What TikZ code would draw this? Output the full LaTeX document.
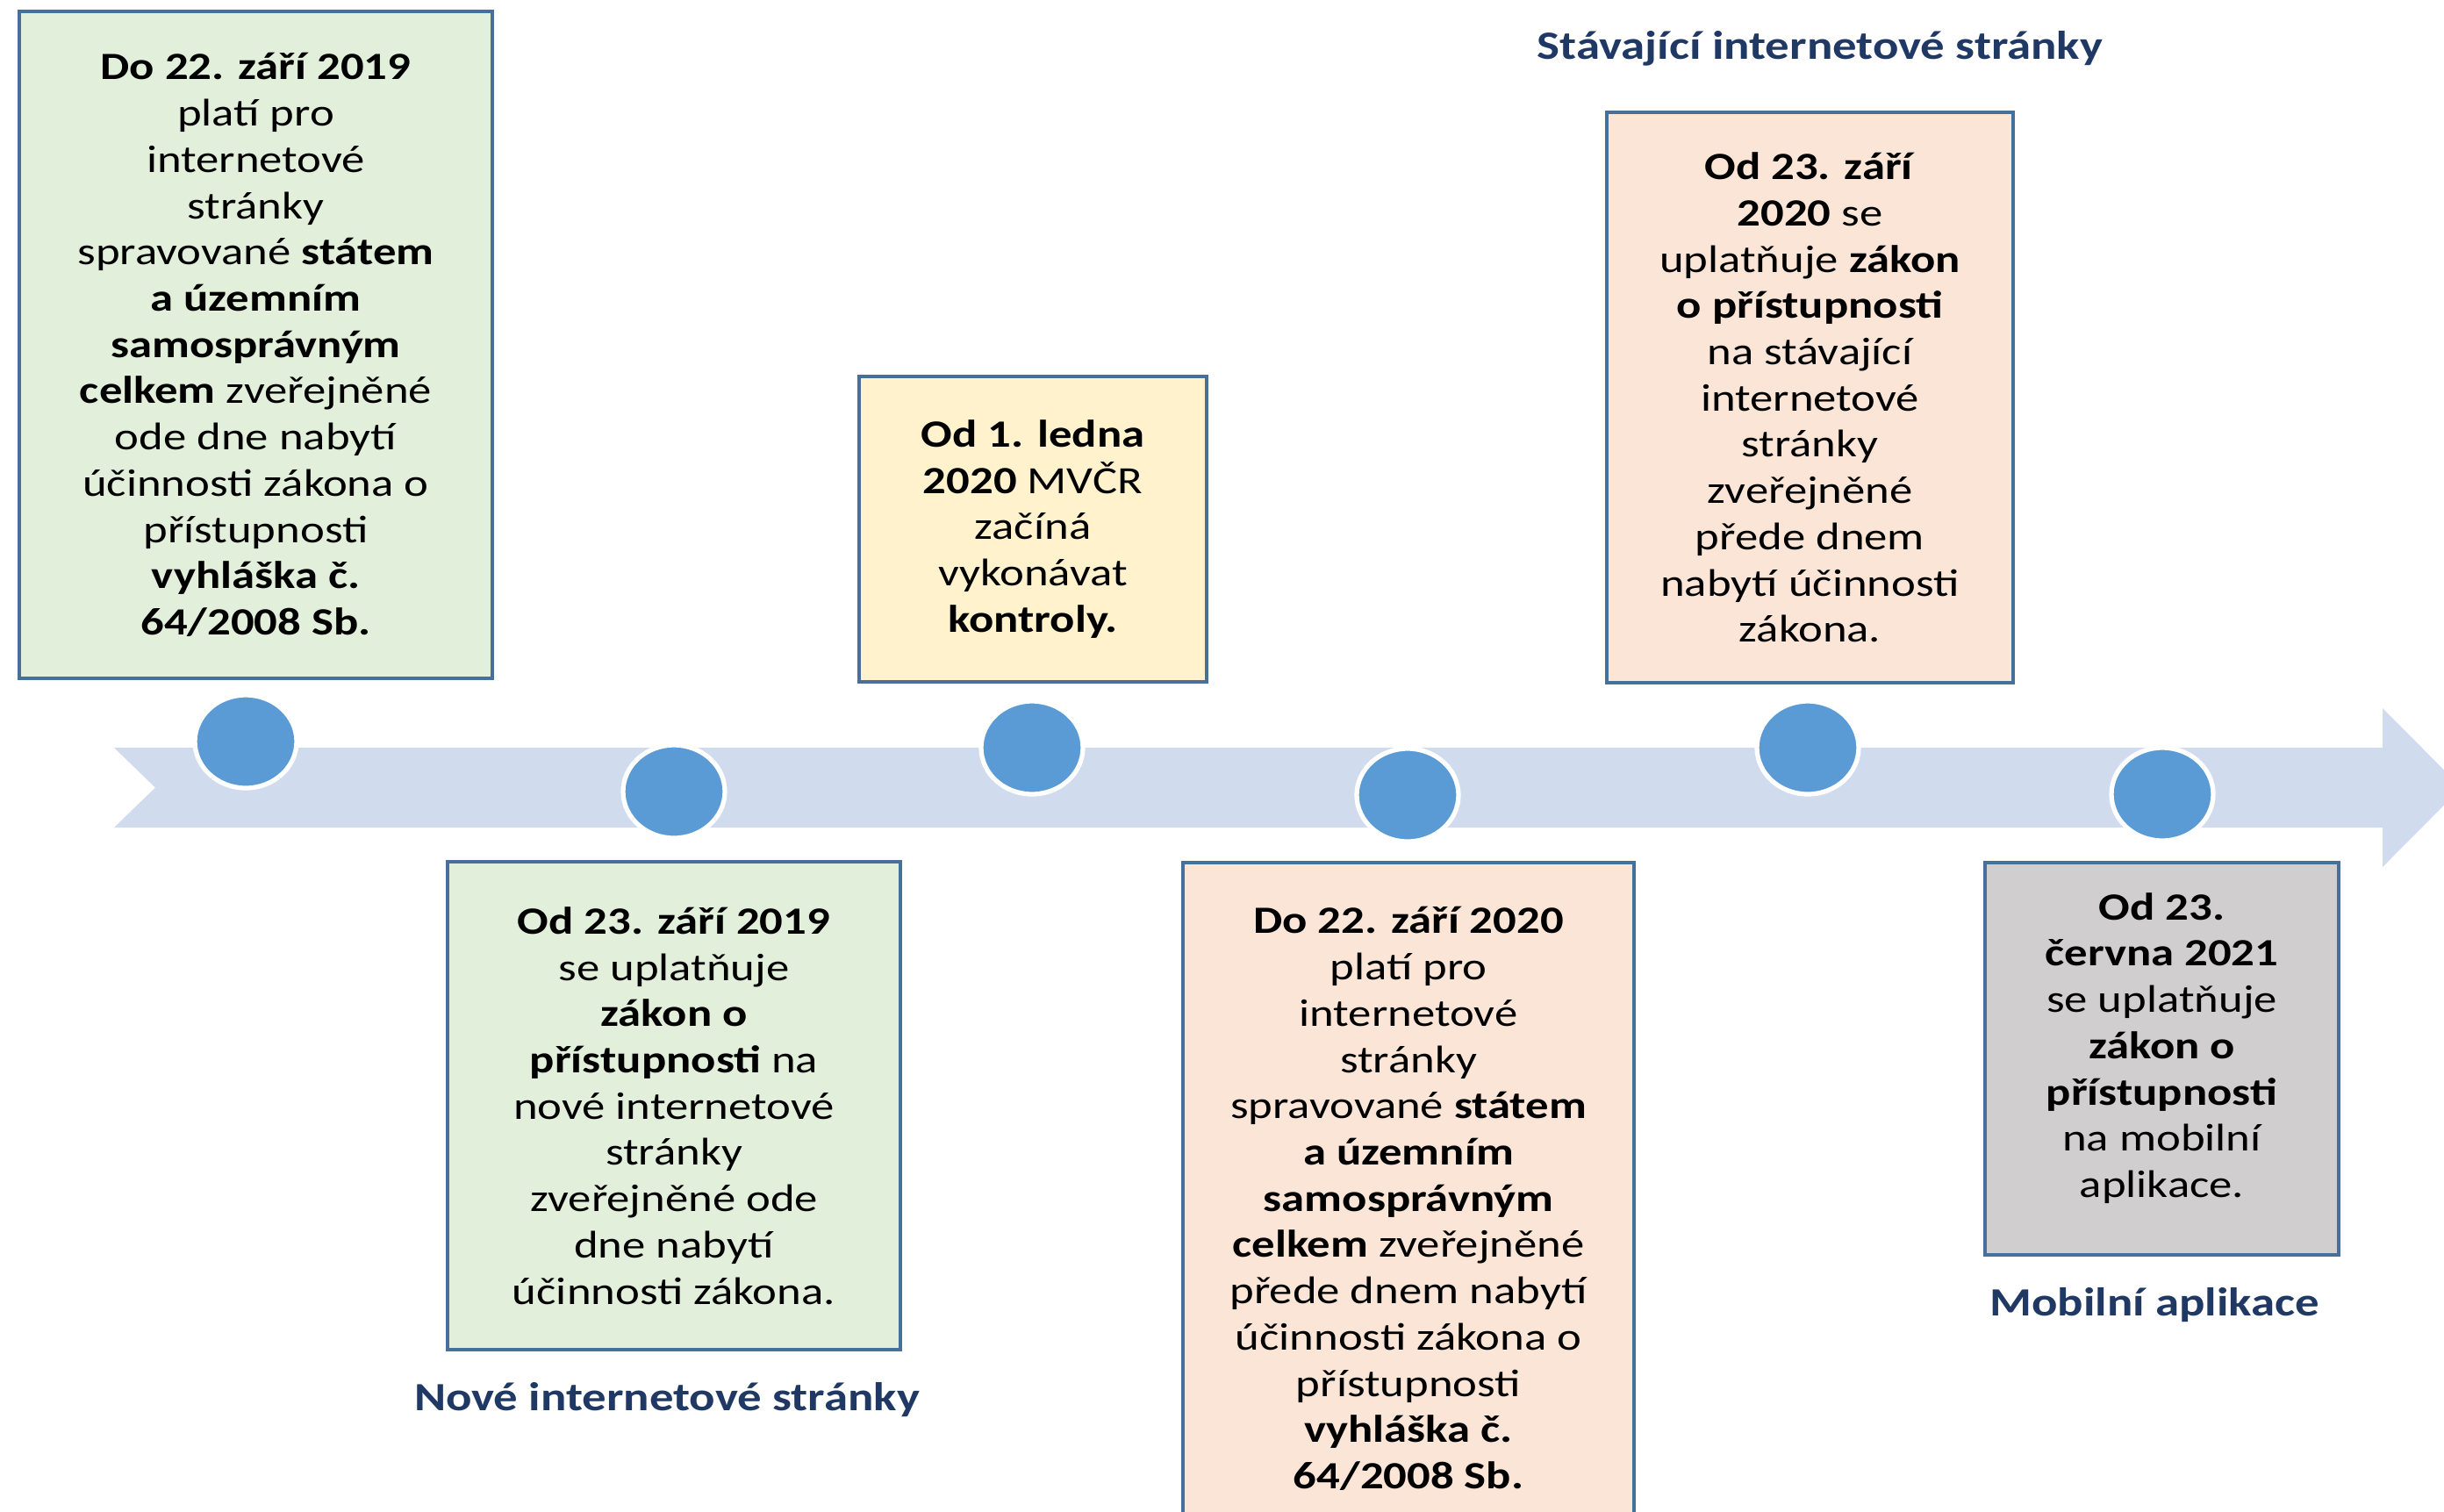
\documentclass[tikz,border=0pt]{standalone}
\usepackage{fontspec}
\setmainfont{Carlito}[FakeStretch=1.2]
\usetikzlibrary{shapes.geometric}
\definecolor{boxBorder}{HTML}{46709A}
\definecolor{boxGreen}{HTML}{E2EFDA}
\definecolor{boxYellow}{HTML}{FFF2CC}
\definecolor{boxSalmon}{HTML}{FBE5D6}
\definecolor{boxGray}{HTML}{D0CECE}
\definecolor{bandBlue}{HTML}{D0DBEE}
\definecolor{dotBlue}{HTML}{5B9BD5}
\definecolor{labelBlue}{HTML}{1F3864}
\begin{document}
\begin{tikzpicture}
[boxText/.style={align=center,inner sep=0pt,font=\fontsize{12.5}{15}\selectfont},%
  boxDecorate/.style={boxText,draw=boxBorder,line width=1.2pt},%
  greenBox/.style={boxDecorate,fill=boxGreen},%
  yellowBox/.style={boxDecorate,fill=boxYellow},%
  salmonBox/.style={boxDecorate,fill=boxSalmon},%
  grayBox/.style={boxDecorate,fill=boxGray},%
  dotDecorate/.style={shape=ellipse,fill=dotBlue,draw=white,line width=1.5pt,minimum width=1.16cm,minimum height=1.06cm,inner sep=0pt},%
  labelDecorate/.style={font=\fontsize{13}{15}\selectfont\bfseries,text=labelBlue}]
\useasboundingbox (0,0) rectangle (27.85,-17.22);
%% time band
\fill[bandBlue] (1.30,-8.52) -- (27.15,-8.52) -- (27.15,-8.07) -- (28.05,-8.975)
  -- (27.15,-9.88) -- (27.15,-9.43) -- (1.30,-9.43) -- (1.77,-8.975) -- cycle;
%% dots on the band
\foreach \dotname/\x/\y in {d1/2.80/-8.45, d2/7.68/-9.02, d3/11.76/-8.52, d4/16.04/-9.06, d5/20.60/-8.52, d6/24.64/-9.05}
{
  \node (\dotname) at (\x,\y) [dotDecorate] {};
}
%% boxes above the band
\node (b1) at (2.915,-3.93) [greenBox,minimum width=5.39cm,minimum height=7.60cm]
  {\textbf{Do 22. září 2019}\\ platí pro\\ internetové\\ stránky\\ spravované \textbf{státem}\\
   \textbf{a územním}\\ \textbf{samosprávným}\\ \textbf{celkem} zveřejněné\\ ode dne nabytí\\
   účinnosti zákona o\\ přístupnosti\\ \textbf{vyhláška č.}\\ \textbf{64/2008 Sb.}};
\node (b3) at (11.77,-6.03) [yellowBox,minimum width=3.96cm,minimum height=3.48cm]
  {\textbf{Od 1. ledna}\\ \textbf{2020} MVČR\\ začíná\\ vykonávat\\ \textbf{kontroly.}};
\node (b5) at (20.625,-4.53) [salmonBox,minimum width=4.63cm,minimum height=6.50cm]
  {\textbf{Od 23. září}\\ \textbf{2020} se\\ uplatňuje \textbf{zákon}\\ \textbf{o přístupnosti}\\
   na stávající\\ internetové\\ stránky\\ zveřejněné\\ přede dnem\\ nabytí účinnosti\\ zákona.};
%% boxes below the band
\node (b2) at (7.68,-12.60) [greenBox,minimum width=5.16cm,minimum height=5.56cm]
  {\textbf{Od 23. září 2019}\\ se uplatňuje\\ \textbf{zákon o}\\ \textbf{přístupnosti} na\\
   nové internetové\\ stránky\\ zveřejněné ode\\ dne nabytí\\ účinnosti zákona.};
\node (b4) at (16.05,-13.66) [salmonBox,minimum width=5.14cm,minimum height=7.66cm]
  {\textbf{Do 22. září 2020}\\ platí pro\\ internetové\\ stránky\\ spravované \textbf{státem}\\
   \textbf{a územním}\\ \textbf{samosprávným}\\ \textbf{celkem} zveřejněné\\ přede dnem nabytí\\
   účinnosti zákona o\\ přístupnosti\\ \textbf{vyhláška č.}\\ \textbf{64/2008 Sb.}};
\node (b6) at (24.635,-12.065) [grayBox,minimum width=4.03cm,minimum height=4.47cm] {};
\node (t6) at ([yshift=0.12cm]b6.center) [boxText]
  {\textbf{Od 23.}\\ \textbf{června 2021}\\ se uplatňuje\\ \textbf{zákon o}\\ \textbf{přístupnosti}\\
   na mobilní\\ aplikace.};
%% group labels
\node (l1) at (20.74,-0.55) [labelDecorate] {Stávající internetové stránky};
\node (l2) at (7.60,-15.95) [labelDecorate] {Nové internetové stránky};
\node (l3) at (24.55,-14.87) [labelDecorate] {Mobilní aplikace};
\end{tikzpicture}
\end{document}
